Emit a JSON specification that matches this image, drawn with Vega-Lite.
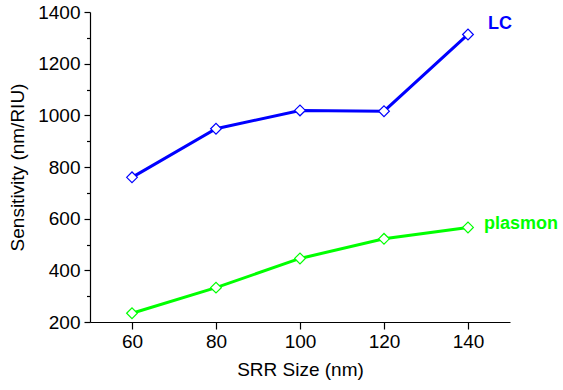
{
  "$schema": "https://vega.github.io/schema/vega-lite/v6.json",
  "width": 420,
  "height": 310,
  "autosize": {"type": "none"},
  "padding": {"left": 90, "top": 12, "right": 53, "bottom": 68},
  "config": {
    "view": {"stroke": null},
    "font": "Liberation Sans",
    "axis": {
      "domainColor": "#000000",
      "domainWidth": 1.2,
      "tickColor": "#000000",
      "tickWidth": 1.2,
      "labelColor": "#000000",
      "titleColor": "#000000",
      "labelFont": "Liberation Sans",
      "titleFont": "Liberation Sans",
      "labelFontSize": 19,
      "titleFontSize": 19,
      "titleFontWeight": "normal",
      "grid": false
    }
  },
  "data": {
    "values": [
      {"size": 60, "sens": 760, "series": "LC"},
      {"size": 80, "sens": 948, "series": "LC"},
      {"size": 100, "sens": 1019, "series": "LC"},
      {"size": 120, "sens": 1016, "series": "LC"},
      {"size": 140, "sens": 1313, "series": "LC"},
      {"size": 60, "sens": 234, "series": "plasmon"},
      {"size": 80, "sens": 333, "series": "plasmon"},
      {"size": 100, "sens": 446, "series": "plasmon"},
      {"size": 120, "sens": 522, "series": "plasmon"},
      {"size": 140, "sens": 566, "series": "plasmon"}
    ]
  },
  "encoding": {
    "x": {
      "field": "size",
      "type": "quantitative",
      "scale": {"domain": [50, 150], "nice": false},
      "axis": {
        "title": "SRR Size (nm)",
        "values": [60, 80, 100, 120, 140],
        "tickSize": 7,
        "labelPadding": 3,
        "titlePadding": 9
      }
    },
    "color": {
      "field": "series",
      "type": "nominal",
      "scale": {"domain": ["LC", "plasmon"], "range": ["#0000ff", "#00ff00"]},
      "legend": null
    }
  },
  "layer": [
    {
      "mark": {"type": "line", "strokeWidth": 3},
      "encoding": {
        "y": {
          "field": "sens",
          "type": "quantitative",
          "scale": {"domain": [200, 1400], "nice": false},
          "axis": {
            "title": "Sensitivity (nm/RIU)",
            "values": [200, 400, 600, 800, 1000, 1200, 1400],
            "format": "d",
            "tickSize": 6,
            "labelPadding": 4,
            "titlePadding": 10
          }
        }
      }
    },
    {
      "mark": {"type": "point", "shape": "diamond", "filled": false, "fill": "white", "fillOpacity": 1, "size": 115, "strokeWidth": 1.2, "opacity": 1},
      "encoding": {
        "y": {
          "field": "sens",
          "type": "quantitative",
          "axis": {
            "orient": "left",
            "title": null,
            "labels": false,
            "domain": false,
            "values": [300, 500, 700, 900, 1100, 1300],
            "tickSize": 3.5
          }
        }
      }
    },
    {
      "transform": [{"filter": "datum.size == 140 && datum.series == 'LC'"}],
      "mark": {"type": "text", "align": "left", "baseline": "middle", "dx": 20, "dy": -10, "fontWeight": "bold", "fontSize": 18, "font": "Liberation Sans"},
      "encoding": {
        "y": {"field": "sens", "type": "quantitative", "axis": null},
        "text": {"field": "series"}
      }
    },
    {
      "transform": [{"filter": "datum.size == 140 && datum.series == 'plasmon'"}],
      "mark": {"type": "text", "align": "left", "baseline": "middle", "dx": 16, "dy": -3, "fontWeight": "bold", "fontSize": 18, "font": "Liberation Sans"},
      "encoding": {
        "y": {"field": "sens", "type": "quantitative", "axis": null},
        "text": {"field": "series"}
      }
    }
  ],
  "resolve": {"axis": {"y": "independent"}}
}
